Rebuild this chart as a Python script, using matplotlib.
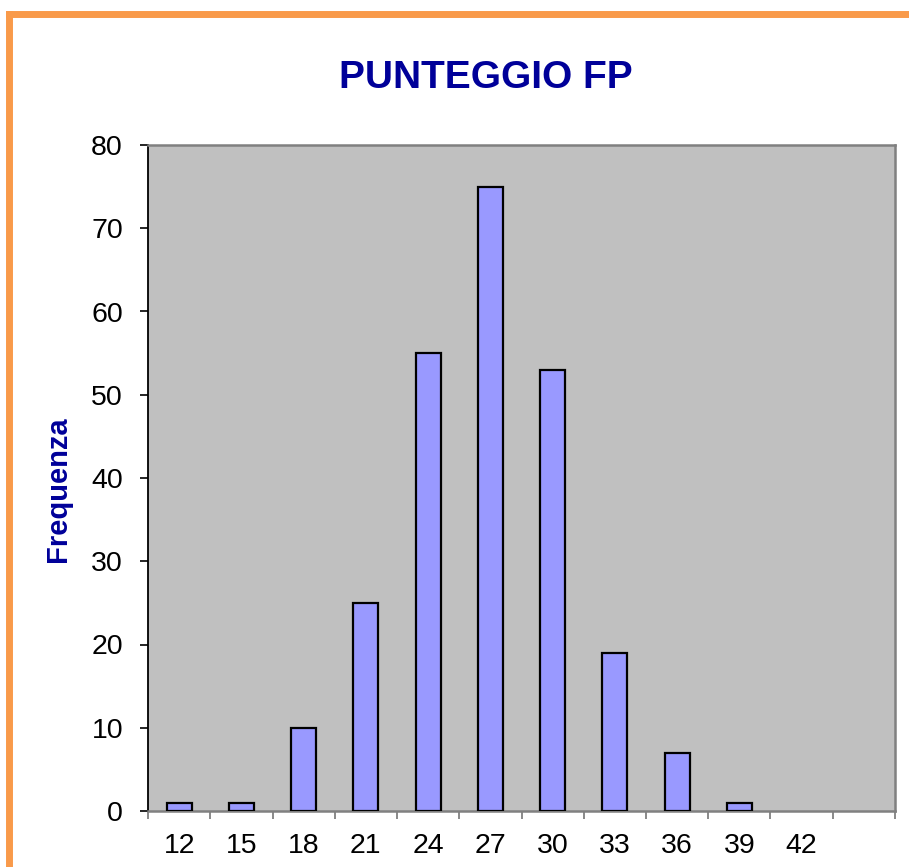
"""
Histogram of PUNTEGGIO FP frequencies.
"""

import matplotlib
matplotlib.use("Agg")

import matplotlib.pyplot as plt
import numpy as np
from matplotlib.lines import Line2D

# ============================================================
# Data
# ============================================================

categories = ["12", "15", "18", "21", "24", "27", "30", "33", "36", "39", "42", ""]
frequencies = [1, 1, 10, 25, 55, 75, 53, 19, 7, 1, 0, 0]

y_ticks = [0, 10, 20, 30, 40, 50, 60, 70, 80]

TITLE_BLUE = "#000099"
BAR_FILL = "#9999FF"
PLOT_GRAY = "#C0C0C0"
BORDER_ORANGE = "#F99A4A"

plt.rcParams["font.family"] = ["Liberation Sans", "DejaVu Sans"]

W, H = 909, 867
fig = plt.figure(figsize=(W / 100, H / 100), dpi=100)

ax = fig.add_axes([
    148 / W,
    1 - 811 / H,
    (895 - 148) / W,
    (811 - 145) / H,
])
ax.set_facecolor(PLOT_GRAY)

x = np.arange(len(categories))
values = np.array(frequencies)
shown = values > 0

ax.bar(
    x[shown],
    values[shown],
    width=0.4,
    color=BAR_FILL,
    edgecolor="black",
    linewidth=1.6,
    zorder=3,
)

ax.set_xlim(-0.5, len(categories) - 0.5)
ax.set_ylim(0, 80)

# category labels at centres, tick marks at boundaries
ax.set_xticks(x)
ax.set_xticklabels(categories, fontsize=20.5)
ax.tick_params(axis="x", which="major", length=0, pad=16)
ax.set_xticks(np.arange(len(categories) + 1) - 0.5, minor=True)
ax.tick_params(
    axis="x",
    which="minor",
    length=6,
    width=1.3,
    color="#808080",
    direction="out",
)

ax.set_yticks(y_ticks)
ax.set_yticklabels([str(v) for v in y_ticks], fontsize=20.5)
ax.tick_params(
    axis="y",
    length=6,
    width=1.2,
    color="black",
    direction="out",
    pad=12,
)

ax.spines["left"].set_color("black")
ax.spines["left"].set_linewidth(1.3)
for side in ("top", "right", "bottom"):
    ax.spines[side].set_color("#808080")
    ax.spines[side].set_linewidth(1.8)

fig.text(
    486 / W,
    1 - 88 / H,
    "PUNTEGGIO FP",
    ha="center",
    va="baseline",
    fontsize=28,
    fontweight="bold",
    color=TITLE_BLUE,
)

fig.text(
    58 / W,
    1 - 489 / H,
    "Frequenza",
    ha="center",
    va="center",
    rotation=90,
    fontsize=21,
    fontweight="bold",
    color=TITLE_BLUE,
)

# orange frame (cropped on the right and bottom)
frame_x = 8.5 / W
frame_y = 1 - 13.5 / H
fig.add_artist(Line2D(
    [frame_x, frame_x],
    [-0.05, frame_y],
    transform=fig.transFigure,
    color=BORDER_ORANGE,
    linewidth=5,
    solid_capstyle="projecting",
))
fig.add_artist(Line2D(
    [frame_x, 1.05],
    [frame_y, frame_y],
    transform=fig.transFigure,
    color=BORDER_ORANGE,
    linewidth=5,
    solid_capstyle="projecting",
))

fig.savefig("out.png", dpi=100)
